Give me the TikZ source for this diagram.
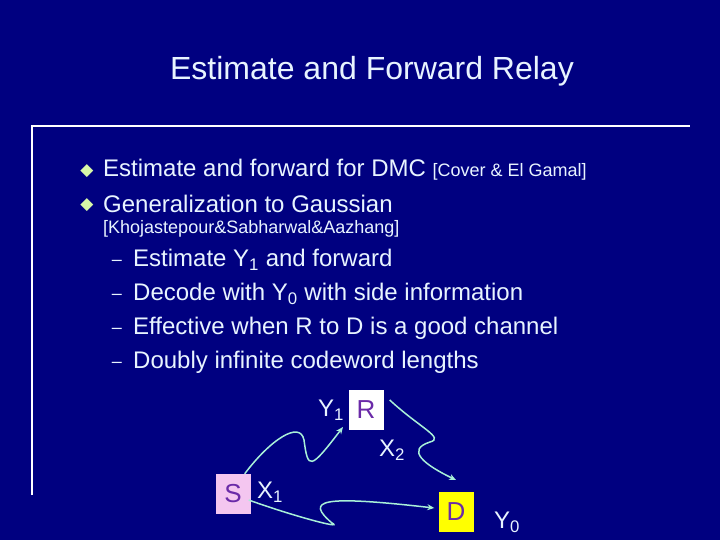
\documentclass[tikz,border=0pt]{standalone}
\usepackage{fontspec}
\setmainfont{Liberation Sans}
\newfontfamily\dejavu{DejaVu Sans}
\usetikzlibrary{arrows.meta}
\definecolor{bg}{HTML}{000080}
\definecolor{txt}{HTML}{E8F4FF}
\definecolor{wav}{HTML}{A8F0D8}
\definecolor{lett}{HTML}{6A2AA8}
\definecolor{spink}{HTML}{F4C6F0}
\definecolor{dyel}{HTML}{FFFF00}
\definecolor{bul}{HTML}{D8F8A8}
\begin{document}
\begin{tikzpicture}[x=1pt,y=-1pt,
  t/.style={text=txt,anchor=west,inner sep=0,font=\fontsize{24}{26}\selectfont},
  sm/.style={text=txt,anchor=west,inner sep=0,font=\fontsize{18}{20}\selectfont},
  box/.style={minimum width=35pt,minimum height=40pt,inner sep=0,text=lett,font=\fontsize{26}{28}\selectfont},
  wave/.style={wav,line width=1.5pt,-{Stealth[length=7pt,width=6pt]}},
  lab/.style={text=txt,inner sep=0,font=\fontsize{24}{26}\selectfont}]
\fill[bg] (0,0) rectangle (720,540);
\useasboundingbox (0,0) rectangle (720,540);
\node[text=txt,font=\fontsize{32}{34}\selectfont] (title) at (372,71) {Estimate and Forward Relay};
\draw[white,line width=1.5pt] (32,495) -- (32,126) -- (690,126);
\node[text=bul,font=\dejavu\fontsize{17}{19}\selectfont,inner sep=0] (b1) at (87,171) {◆};
\node[text=bul,font=\dejavu\fontsize{17}{19}\selectfont,inner sep=0] (b2) at (87,205) {◆};
\node[t] (l1) at (103,170) {Estimate and forward for DMC \fontsize{18}{20}\selectfont[Cover \& El Gamal]};
\node[t] (l2) at (103,204) {Generalization to Gaussian};
\node[sm] (l3) at (103,229) {[Khojastepour\&Sabharwal\&Aazhang]};
\foreach \y/\s [count=\i] in {260/{Estimate Y\textsubscript{1} and forward},294/{Decode with Y\textsubscript{0} with side information},328/{Effective when R to D is a good channel},362/{Doubly infinite codeword lengths}}{
  \node[text=txt,inner sep=0,font=\fontsize{18}{20}\selectfont] (d\i) at (117,\y+3) {–};
  \node[t] (s\i) at (133,\y) {\s};
}
\node[box,fill=spink] (S) at (233,494) {S};
\node[box,fill=white] (R) at (366,410) {R};
\node[box,fill=dyel] (D) at (456,512) {D};
\node[lab] (y1) at (331,410) {Y\textsubscript{1}};
\node[lab] (x2) at (392,450) {X\textsubscript{2}};
\node[lab] (x1) at (270,492) {X\textsubscript{1}};
\node[lab] (y0) at (507,522) {Y\textsubscript{0}};
\draw[wave] ([xshift=-6pt]S.north east) .. controls (270,440) and (300,420) .. (304,440) .. controls (308,470) and (310,470) .. (343,427);
\draw[wave] ([xshift=-2pt,yshift=-6pt]S.east) .. controls (290,515) and (345,530) .. (332,523) .. controls (305,500) and (320,495) .. ([xshift=-4pt,yshift=4pt]D.west);
\draw[wave] ([xshift=6pt,yshift=10pt]R.east) .. controls (420,428) and (445,438) .. (430,442) .. controls (405,450) and (425,465) .. (456,480);
\end{tikzpicture}
\end{document}
